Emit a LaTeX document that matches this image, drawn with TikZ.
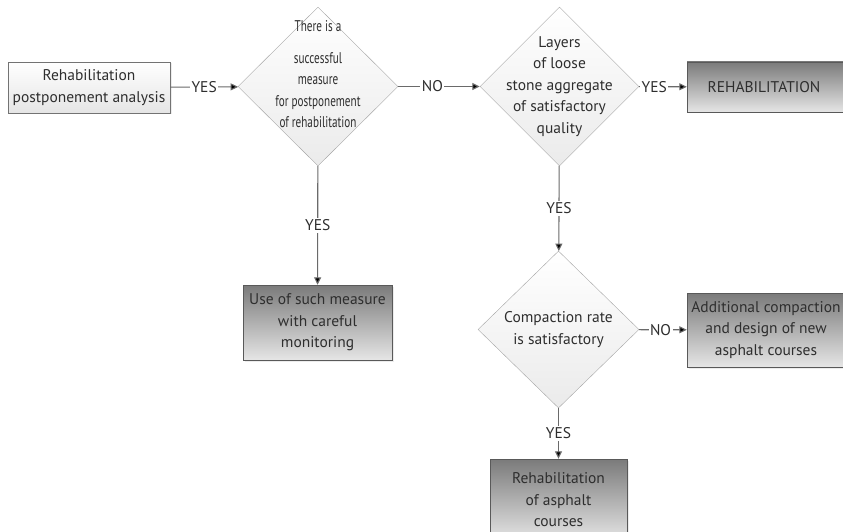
\documentclass[tikz,border=0pt]{standalone}
\usepackage{fontspec}
\setmainfont{PT Sans}
\usepackage{graphicx}
\usetikzlibrary{arrows.meta,shapes.geometric,shadows}

\definecolor{txt}{HTML}{2E2E2E}
\definecolor{wire}{HTML}{6A6A6A}

\begin{document}
\begin{tikzpicture}[x=1pt,y=-1pt,
    every node/.style={text=txt,font=\fontsize{15.5}{21.5}\selectfont},
    flow/.style={draw=wire,line width=1.1pt,-{Triangle[length=7.5pt,width=7pt]}},
    lbl/.style={fill=white,inner sep=1.5pt},
    lightbox/.style={draw=black!55,top color=white,bottom color=black!10,
                     align=center,inner sep=0pt,
                     drop shadow={opacity=0.15,shadow xshift=1.5pt,shadow yshift=-1.5pt}},
    darkbox/.style={draw=black!65,top color=black!52,bottom color=black!10,
                    align=center,inner sep=0pt,
                    drop shadow={opacity=0.15,shadow xshift=1.5pt,shadow yshift=-1.5pt}},
    decision/.style={diamond,draw=black!35,top color=white,bottom color=black!8,
                     inner sep=0pt,aspect=1}]

  \clip (0,0) rectangle (843,532);

  \node[lightbox,minimum width=162pt,minimum height=51pt] (start) at (89,87.5)
       {Rehabilitation\\postponement analysis};
  \node[decision,minimum width=160pt,minimum height=159pt] (measure) at (318,86.5) {};
  \node[align=center,yshift=11pt] at (measure)
       {\scalebox{0.72}[1]{\begin{tabular}{@{}c@{}}There is a\\[10pt]successful\\measure\\for postponement\\of rehabilitation\end{tabular}}};
  \node[decision,minimum width=159pt,minimum height=159pt] (layers) at (559.5,86.5)
       {};
  \node[align=center] at (layers)
       {Layers\\of loose\\stone aggregate\\of satisfactory\\quality};
  \node[darkbox,minimum width=162pt,minimum height=50pt] (rehab) at (768,87)
       {\hspace*{-8pt}REHABILITATION};
  \node[darkbox,minimum width=149pt,minimum height=75pt] (monitor) at (317.5,322.5)
       {Use of such measure\\with careful\\monitoring};
  \node[decision,minimum width=161pt,minimum height=157pt] (compact) at (558.5,329.5)
       {};
  \node[align=center] at (compact) {Compaction rate\\is satisfactory};
  \node[darkbox,minimum width=158pt,minimum height=74pt] (extra) at (766,330)
       {Additional compaction\\and design of new\\asphalt courses};
  \node[darkbox,minimum width=137pt,minimum height=82pt] (asphalt) at (558.5,500)
       {Rehabilitation\\of asphalt\\courses};

  \path[flow] (start)   edge node[lbl] {YES} (measure)
              (measure) edge node[lbl,pos=0.42] {NO} (layers)
                        edge node[lbl] {YES} (monitor)
              (layers)  edge node[lbl,pos=0.32] {YES} (rehab)
                        edge node[lbl] {YES} (compact)
              (compact) edge node[lbl,pos=0.45] {NO} (extra)
                        edge node[lbl] {YES} (asphalt);
\end{tikzpicture}
\end{document}
